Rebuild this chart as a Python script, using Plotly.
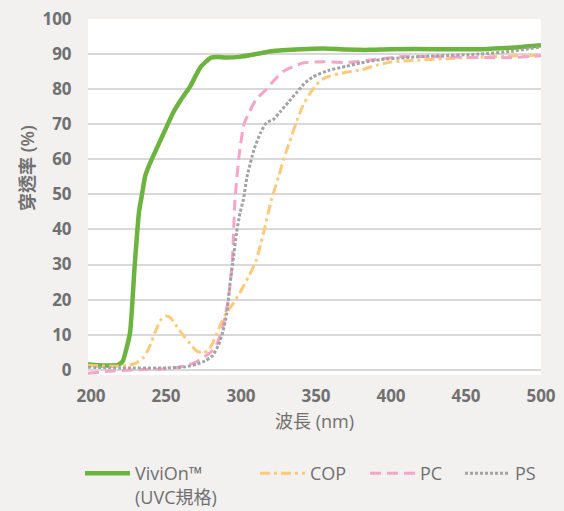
import plotly.graph_objects as go

# ---- data ----
vivion_x = [198, 205, 212, 218, 221, 223, 226, 229, 232, 234, 236, 238, 241, 248, 255, 260, 266, 270, 273, 277, 280, 284, 290, 299, 310, 320, 340, 355, 370, 385, 400, 430, 460, 480, 500]
vivion_y = [1.6, 1.3, 1.2, 1.4, 2.3, 5, 10.5, 29, 45, 50, 55, 57.5, 60.5, 67, 73.5, 77, 80.7, 84, 86.3, 88, 89, 89.2, 89, 89.2, 90, 90.8, 91.4, 91.6, 91.3, 91.2, 91.4, 91.4, 91.4, 91.8, 92.5]

cop_x = [198, 205, 215, 225, 230, 235, 239, 243, 247, 250, 253, 257, 262, 266, 270, 274, 278, 281, 284, 287, 290, 295, 300, 305, 310, 315, 320, 325, 330, 339, 342, 348, 353, 359, 370, 381, 390, 400, 415, 437, 470, 500]
cop_y = [1.3, 1.1, 1.0, 1.3, 1.9, 3.5, 6.5, 11, 14.5, 15.3, 14.8, 12.5, 9.5, 7.5, 5.5, 4.8, 5.5, 7.5, 10.5, 13.5, 16, 19, 22.5, 26.5, 31, 39, 48, 55, 62, 73, 76, 80, 82.5, 83.7, 84.8, 85.6, 86.8, 87.7, 88.2, 88.7, 89.3, 89.7]

pc_x = [198, 210, 230, 250, 262, 270, 276, 281, 284, 288, 291.5, 294, 296, 299, 302, 305, 310, 317, 322, 328, 335, 342, 355, 370, 388, 408, 426, 460, 480, 500]
pc_y = [-1.0, -0.5, 0, 0.3, 1, 2.2, 3.8, 5.5, 7.5, 12.4, 20, 29.5, 48.5, 62, 70, 73, 77, 80, 82.5, 85, 86.5, 87.5, 87.8, 87.6, 88.4, 89.3, 89.3, 89, 89, 89.5]

ps_x = [198, 220, 250, 262, 270, 276, 281, 285, 288, 290.5, 292.7, 295, 297, 299.5, 301.6, 304, 308.7, 313, 317, 322, 326, 332, 337, 342, 348, 358, 370, 380, 393, 410, 426, 459, 480, 500]
ps_y = [0.7, 0.5, 0.5, 0.8, 1.5, 2.5, 4, 7, 11, 16, 24.7, 32, 39, 45, 48.5, 55, 62.8, 67.5, 70.4, 71.5, 73.5, 76.5, 79, 81.5, 83.5, 85.3, 86.5, 87.5, 88.4, 89, 89.4, 90, 90.8, 92]

x_ticks = [200, 250, 300, 350, 400, 450, 500]
y_ticks = [0, 10, 20, 30, 40, 50, 60, 70, 80, 90, 100]

names = ["ViviOn™<br>(UVC規格)", "COP", "PC", "PS"]
x_title = "波長 (nm)"
y_title = "穿透率 (%)"

FONT = "Open Sans, Noto Sans CJK TC, sans-serif"
GRAY = "#707070"

fig = go.Figure()
fig.add_trace(go.Scatter(x=vivion_x, y=vivion_y, mode="lines", name=names[0],
                         line=dict(color="#6CB33F", width=4.5, shape="spline", smoothing=0.6),
                         legend="legend"))
fig.add_trace(go.Scatter(x=cop_x, y=cop_y, mode="lines", name=names[1],
                         line=dict(color="#FFC97A", width=3, dash="10px,4px,3px,4px", shape="spline", smoothing=0.6),
                         legend="legend2"))
fig.add_trace(go.Scatter(x=pc_x, y=pc_y, mode="lines", name=names[2],
                         line=dict(color="#F5A5C8", width=3, dash="11px,6px", shape="spline", smoothing=0.6),
                         legend="legend3"))
fig.add_trace(go.Scatter(x=ps_x, y=ps_y, mode="lines", name=names[3],
                         line=dict(color="#A3A3A6", width=3, dash="3px,2px", shape="spline", smoothing=0.6),
                         legend="legend4"))

W, H = 564, 511
ML, MR, MT, MB = 88, 23, 19, 136
leg_common = dict(xref="container", yref="container", yanchor="top", xanchor="left",
                  bgcolor="rgba(0,0,0,0)", font=dict(family=FONT, size=18, color=GRAY),
                  itemwidth=45, valign="top", tracegroupgap=0)
legend_top = 1 - 455 / H

plot_w = W - ML - MR
plot_h = H - MT - MB

fig.update_layout(
    width=W, height=H,
    paper_bgcolor="#F2F1EF", plot_bgcolor="#FFFFFF",
    margin=dict(l=ML, r=MR, t=MT, b=MB, autoexpand=False),
    font=dict(family=FONT, color=GRAY),
    showlegend=True,
    legend=dict(x=80 / W, y=legend_top, **leg_common),
    legend2=dict(x=255 / W, y=legend_top, **leg_common),
    legend3=dict(x=365 / W, y=legend_top, **leg_common),
    legend4=dict(x=460 / W, y=legend_top, **leg_common),
    xaxis=dict(range=[198, 500], tickvals=x_ticks, ticktext=[str(v) for v in x_ticks],
               showgrid=False, zeroline=False, showline=False,
               ticks="outside", ticklen=6, tickcolor="rgba(0,0,0,0)",
               tickfont=dict(family=FONT, size=17, color=GRAY, weight="bold"),
               automargin=True,
               title=dict(text=x_title, font=dict(family=FONT, size=18, color=GRAY), standoff=8)),
    yaxis=dict(range=[-1.5, 100], tickvals=y_ticks, ticktext=[str(v) for v in y_ticks],
               showgrid=True, gridcolor="#D9D9D9", gridwidth=1.5, zeroline=False, showline=False,
               ticks="outside", ticklen=12, tickcolor="rgba(0,0,0,0)",
               tickfont=dict(family=FONT, size=17, color=GRAY, weight="bold")),
    annotations=[dict(text=y_title, textangle=-90, showarrow=False,
                      xref="paper", yref="paper",
                      x=(27 - ML) / plot_w, y=(H - MB - 168) / plot_h,
                      xanchor="center", yanchor="middle",
                      font=dict(family=FONT, size=18, color=GRAY, weight=600))],
)

fig.write_html("out.html")
